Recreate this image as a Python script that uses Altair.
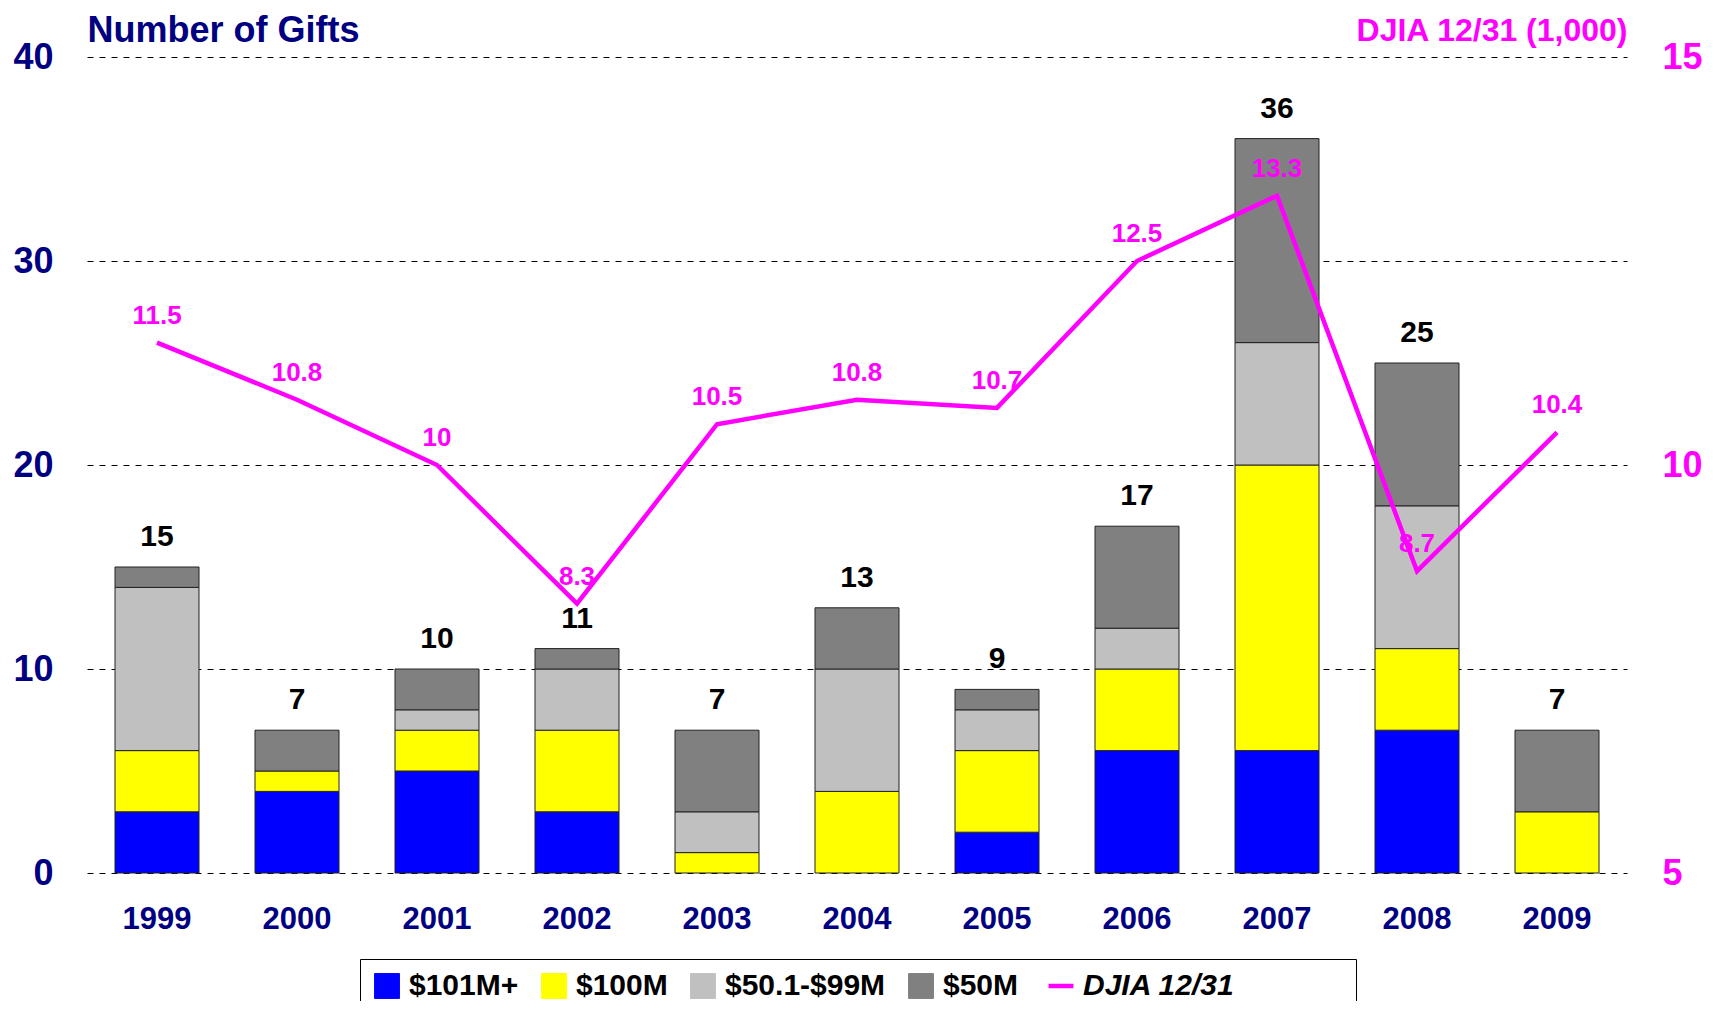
import altair as alt
import pandas as pd

years = ["1999", "2000", "2001", "2002", "2003", "2004", "2005", "2006", "2007", "2008", "2009"]
series_names = ["$101M+", "$100M", "$50.1-$99M", "$50M"]
gifts_101_plus = [3, 4, 5, 3, 0, 0, 2, 6, 6, 7, 0]
gifts_100 = [3, 1, 2, 4, 1, 4, 4, 4, 14, 4, 3]
gifts_50_99 = [8, 0, 1, 3, 2, 6, 2, 2, 6, 7, 0]
gifts_50 = [1, 2, 2, 1, 4, 3, 1, 5, 10, 7, 4]
djia = [11.5, 10.8, 10.0, 8.3, 10.5, 10.8, 10.7, 12.5, 13.3, 8.7, 10.4]
djia_name = "DJIA 12/31"

colors = ["#0000FF", "#FFFF00", "#C0C0C0", "#808080", "#FF00FF"]
NAVY = "#000080"
MAGENTA = "#FF00FF"
FONT = "Liberation Sans"

rows = []
for s_i, (name, vals) in enumerate(zip(series_names, [gifts_101_plus, gifts_100, gifts_50_99, gifts_50])):
    for y, v in zip(years, vals):
        rows.append({"year": y, "series": name, "count": v, "order": s_i})
bars_df = pd.DataFrame(rows)

totals_df = pd.DataFrame({
    "year": years,
    "total": [a + b + c + d for a, b, c, d in zip(gifts_101_plus, gifts_100, gifts_50_99, gifts_50)],
})
line_df = pd.DataFrame({"year": years, "djia": djia, "series": [djia_name] * len(years)})

color_scale = alt.Scale(domain=series_names + [djia_name], range=colors)
x_axis = alt.Axis(title=None, labelAngle=0, labelFont=FONT, labelFontSize=31,
                  labelFontWeight="bold", labelColor=NAVY, labelPadding=31,
                  domain=False, ticks=False)
x_scale = alt.Scale(paddingInner=0.4, paddingOuter=0.2)

def x_enc():
    return alt.X("year:N", sort=years, scale=x_scale, axis=x_axis)

is_djia = f"datum.value === '{djia_name}'"
# trailing no-break spaces (kept by a final zero-width char) widen the legend box on the right
pad_str = "\u00a0" * 13 + "\u200b"
legend = alt.Legend(
    title=None, orient="none", legendX=273, legendY=902, direction="horizontal",
    strokeColor="black", padding=12, columnPadding=20,
    labelFont=FONT, labelFontSize=30, labelFontWeight="bold", labelColor="black",
    labelFontStyle={"expr": f"{is_djia} ? 'italic' : 'normal'"},
    labelExpr=f"{is_djia} ? datum.label + '{pad_str}' : datum.label",
    labelOffset=7, labelLimit=500,
    symbolType={"expr": f"{is_djia} ? 'stroke' : 'square'"},
    symbolSize=620,
    symbolStrokeColor={"expr": f"{is_djia} ? '{MAGENTA}' : '#222222'"},
    symbolStrokeWidth={"expr": f"{is_djia} ? 4.5 : 1"},
    symbolOpacity=1,
)

left_scale = alt.Scale(domain=[0, 40], nice=False)
left_axis = alt.Axis(values=[0, 10, 20, 30, 40], grid=True, gridDash=[6, 6],
                     gridColor="black", gridWidth=1, gridOpacity=1, domain=False, ticks=False,
                     labelFont=FONT, labelFontSize=36, labelFontWeight="bold",
                     labelColor=NAVY, labelPadding=34,
                     title="Number of Gifts", titleAngle=0, titleAlign="left",
                     titleBaseline="alphabetic", titleX=0, titleY=-16,
                     titleFont=FONT, titleFontSize=36, titleFontWeight="bold",
                     titleColor=NAVY)

bars = alt.Chart(bars_df).transform_filter("datum.count > 0").mark_bar(
    stroke="#222222", strokeWidth=1
).encode(
    x=x_enc(),
    y=alt.Y("sum(count):Q", stack="zero", scale=left_scale, axis=left_axis,
            title="Number of Gifts"),
    color=alt.Color("series:N", scale=color_scale, legend=legend),
    order=alt.Order("order:Q", sort="ascending"),
)

totals = alt.Chart(totals_df).mark_text(
    font=FONT, fontSize=30, fontWeight="bold", color="black", baseline="middle", dy=-30
).encode(
    x=x_enc(),
    y=alt.Y("total:Q", scale=left_scale, axis=left_axis, title="Number of Gifts"),
    text=alt.Text("total:Q"),
)

right_scale = alt.Scale(domain=[5, 15], nice=False)
right_axis = alt.Axis(orient="right", values=[5, 10, 15], grid=False, domain=False,
                      ticks=False, labelFont=FONT, labelFontSize=36,
                      labelFontWeight="bold", labelColor=MAGENTA, labelPadding=35,
                      title="DJIA 12/31 (1,000)", titleAngle=0, titleAlign="right",
                      titleBaseline="alphabetic", titleX=0, titleY=-17,
                      titleFont=FONT, titleFontSize=32, titleFontWeight="bold",
                      titleColor=MAGENTA)

line = alt.Chart(line_df).mark_line(strokeWidth=4.5, strokeJoin="miter").encode(
    x=x_enc(),
    y=alt.Y("djia:Q", scale=right_scale, axis=right_axis, title="DJIA 12/31 (1,000)"),
    color=alt.Color("series:N", scale=color_scale, legend=None),
)

djia_labels = alt.Chart(line_df).mark_text(
    font=FONT, fontSize=26, fontWeight="bold", color=MAGENTA, baseline="middle", dy=-27
).encode(
    x=x_enc(),
    y=alt.Y("djia:Q", scale=right_scale, axis=right_axis, title="DJIA 12/31 (1,000)"),
    text=alt.Text("djia:Q", format=".1~f"),
)

chart = alt.layer(
    alt.layer(bars, totals),
    alt.layer(line, djia_labels),
).resolve_scale(y="independent").properties(
    width=1540, height=816,
    autosize=alt.AutoSizeParams(type="none"),
    padding={"left": 79, "top": 49, "right": 80, "bottom": 128},
    background="white",
).configure_view(stroke=None)

chart.save("out.html", embed_options={"renderer": "svg", "actions": False})
